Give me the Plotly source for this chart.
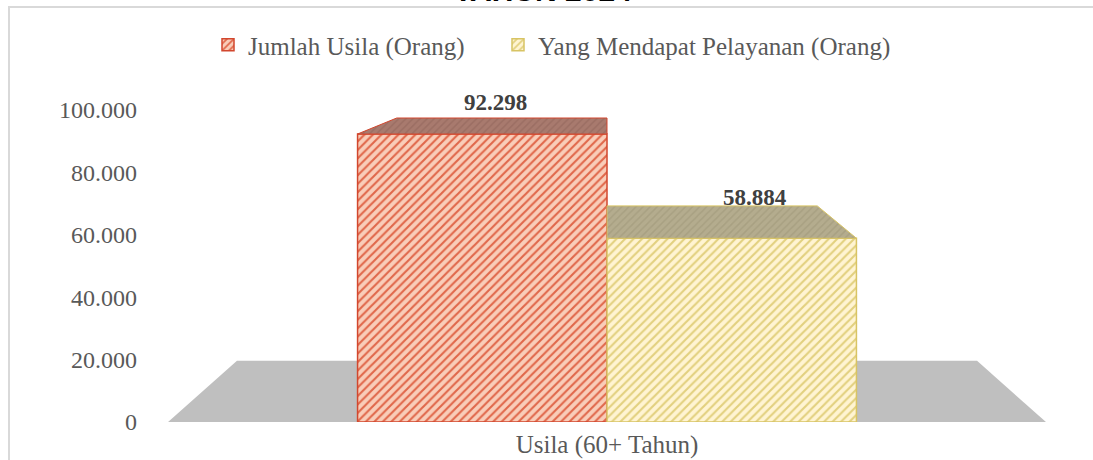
import plotly.graph_objects as go

# ---------------- data ----------------
categories = ["Usila (60+ Tahun)"]
series_names = ["Jumlah Usila (Orang)", "Yang Mendapat Pelayanan (Orang)"]
series_values = [92298, 58884]
y_ticks = [0, 20000, 40000, 60000, 80000, 100000]
title_text = "TAHUN 2024"

# ---------------- style ----------------
BAR_W = 0.558          # width of each bar (x units, category centred at 0)
DEPTH = 0.157          # perspective depth factor
VP_Y = 125000          # vanishing point height (y units)
FLOOR_HALF = 0.982
front_bg = ["#F9CDB9", "#FFF4D2"]
front_fg = ["#E0674A", "#E2D07E"]
edge_col = ["#D2472E", "#D8C464"]
top_bg = ["#A87A6E", "#B4AC8E"]
top_fg = ["#8E6258", "#9C9476"]
label_xshift = [13, 23]
label_yshift = [32, 41]
legend_px = [208, 498]
SERIF = "Liberation Serif"
GREY = "#595959"

M_L, M_R, M_T, M_B = 160, 39, 110, 38
W, H = 1093, 460
plot_w = W - M_L - M_R
plot_h = H - M_T - M_B


def px_to_paper_x(px):
    return (px - M_L) / plot_w


def px_to_paper_y(py):
    return 1 + (M_T - py) / plot_h


fig = go.Figure()

cat_x = 0
offsets = [-BAR_W, 0]
legend_ids = ["legend", "legend2"]
for i, (name, v) in enumerate(zip(series_names, series_values)):
    fig.add_trace(go.Bar(
        x=[cat_x], y=[v], name=name, width=BAR_W, offset=offsets[i],
        legend=legend_ids[i],
        marker=dict(color=front_bg[i],
                    line=dict(color=edge_col[i], width=1.5),
                    pattern=dict(shape="/", bgcolor=front_bg[i], fgcolor=front_fg[i],
                                 size=6, solidity=0.35, fillmode="replace")),
        hoverinfo="skip",
    ))


def back(x, y):
    return x * (1 - DEPTH), y + DEPTH * (VP_Y - y)


# top faces of the bars (perspective)
for i, v in enumerate(series_values):
    x0 = cat_x + offsets[i]
    x1 = x0 + BAR_W
    bx0, by = back(x0, v)
    bx1, _ = back(x1, v)
    fig.add_trace(go.Scatter(
        x=[x0, x1, bx1, bx0, x0], y=[v, v, by, by, v],
        mode="lines", fill="toself", showlegend=False, hoverinfo="skip",
        line=dict(color=edge_col[i], width=1),
        fillcolor=top_bg[i],
        fillpattern=dict(shape="/", bgcolor=top_bg[i], fgcolor=top_fg[i],
                         size=5, solidity=0.3),
    ))
    fig.add_annotation(
        x=x0 + BAR_W / 2, y=v, xref="x", yref="y",
        text="<b>" + f"{v:,}".replace(",", ".") + "</b>",
        showarrow=False, xshift=label_xshift[i], yshift=label_yshift[i],
        font=dict(family=SERIF, size=23, color="#404040"),
    )

# floor
fbx0, fby = back(-FLOOR_HALF, 0)
fbx1, _ = back(FLOOR_HALF, 0)
fig.add_shape(type="path", xref="x", yref="y", layer="below",
              path=f"M {-FLOOR_HALF},0 L {FLOOR_HALF},0 L {fbx1},{fby} L {fbx0},{fby} Z",
              fillcolor="#BFBFBF", line=dict(width=0))

# frame of the chart area
fig.add_shape(type="rect", xref="paper", yref="paper",
              x0=px_to_paper_x(9), x1=px_to_paper_x(W + 20),
              y0=px_to_paper_y(H + 20), y1=px_to_paper_y(7),
              line=dict(color="#D9D9D9", width=2), fillcolor="rgba(0,0,0,0)")

# title (mostly cut off above the page)
fig.add_annotation(x=px_to_paper_x(543), y=px_to_paper_y(9), xref="paper", yref="paper",
                   xanchor="center", yanchor="bottom", showarrow=False,
                   text="<b>" + title_text + "</b>",
                   font=dict(family="Liberation Sans", size=30, color="#000000"))

legend_common = dict(orientation="h", xanchor="left", yanchor="middle",
                     y=px_to_paper_y(45),
                     font=dict(family=SERIF, size=25, color=GREY),
                     itemwidth=30, bgcolor="rgba(0,0,0,0)")

fig.update_layout(
    width=W, height=H,
    margin=dict(l=M_L, r=M_R, t=M_T, b=M_B, autoexpand=False),
    paper_bgcolor="white", plot_bgcolor="white",
    barmode="overlay",
    separators=",.",
    showlegend=True,
    legend=dict(x=px_to_paper_x(legend_px[0]), **legend_common),
    legend2=dict(x=px_to_paper_x(legend_px[1]), **legend_common),
    xaxis=dict(range=[-1, 1], tickvals=[cat_x], ticktext=categories,
               showgrid=False, zeroline=False, showline=False, ticks="",
               tickfont=dict(family=SERIF, size=25, color=GREY),
               ticklabelstandoff=5, fixedrange=True),
    yaxis=dict(range=[0, 100000], tickvals=y_ticks, tickformat=",d",
               showgrid=False, zeroline=False, showline=False, ticks="",
               tickfont=dict(family=SERIF, size=24, color=GREY),
               ticklabelstandoff=22, fixedrange=True),
)

fig.write_html("out.html", config={"displayModeBar": False},
               post_script="document.body.style.margin='0px';")
